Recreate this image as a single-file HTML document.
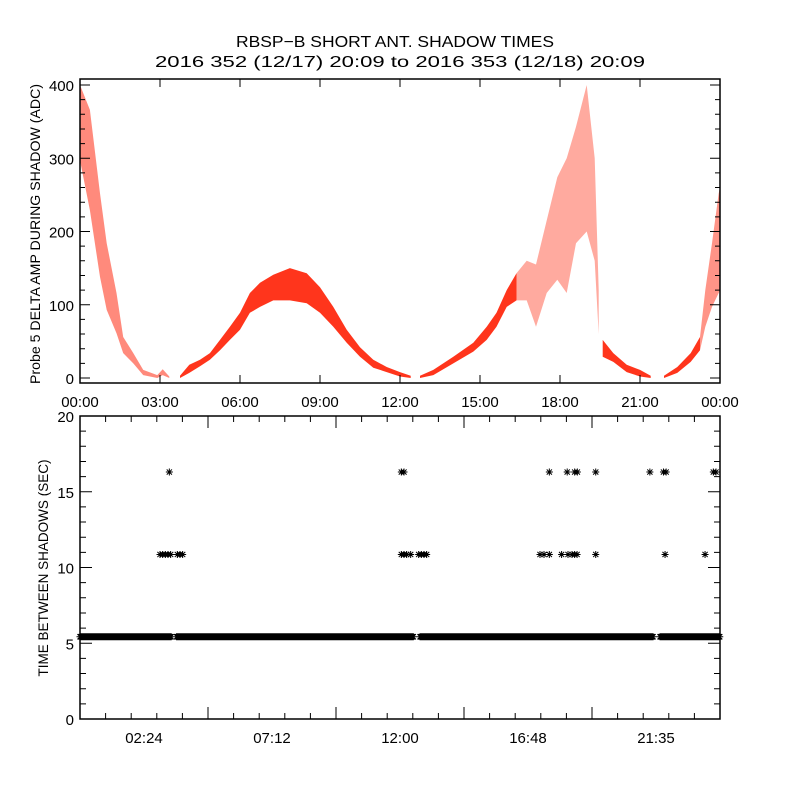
<!DOCTYPE html>
<html><head><meta charset="utf-8"><style>
html,body{margin:0;padding:0;background:#fff;}
svg{display:block;font-family:"Liberation Sans",sans-serif;}
</style></head><body>
<svg id="c" width="800" height="800" viewBox="0 0 800 800">
<rect width="800" height="800" fill="#fff"/>
<text x="395" y="47" text-anchor="middle" font-size="16" textLength="318" lengthAdjust="spacingAndGlyphs">RBSP−B SHORT ANT. SHADOW TIMES</text>
<text x="400" y="67" text-anchor="middle" font-size="16" textLength="490" lengthAdjust="spacingAndGlyphs">2016 352 (12/17) 20:09 to 2016 353 (12/18) 20:09</text>
<g id="topPanel"></g>
<g id="botPanel"></g>
</svg>
<script>
// ---- top panel data: segments of [hour, low, high]
const segA_h  = [0,0.37,0.75,1.0,1.37,1.62,2.0,2.37,2.9,3.1,3.35];
const segA_lo = [297,229,138,93,61,34,20,4,0,4,0];
const segA_hi = [400,366,252,184,116,56,34,11,4,12,2];
const segB_h  = [3.75,4.1,4.5,4.87,5.25,5.62,6.0,6.37,6.75,7.25,7.87,8.5,9.0,9.5,10.0,10.5,11.0,11.5,12.0,12.4];
const segB_lo = [0,7,16,25,38,52,66,89,97,106,106,102,89,70,48,29,14,8,2,0];
const segB_hi = [3,18,25,34,52,70,89,116,130,141,150,143,124,97,66,42,25,15,8,3];
const segC_h  = [12.75,13.25,14.0,14.75,15.25,15.62,16.0,16.37];
const segC_lo = [0,4,20,36,52,70,97,106];
const segC_hi = [3,11,29,48,70,89,120,143];
const segD_h  = [16.37,16.75,17.1,17.5,17.9,18.25,18.6,19.0,19.3,19.45];
const segD_lo = [106,106,70,116,134,116,184,200,160,60];
const segD_hi = [143,160,155,215,274,300,343,400,300,120];
const segE_h  = [19.6,20.0,20.5,21.0,21.4];
const segE_lo = [29,22,8,2,0];
const segE_hi = [52,34,18,11,3];
const segF_h  = [21.9,22.4,22.9,23.25];
const segF_lo = [0,7,22,38];
const segF_hi = [3,15,34,56];
const segG_h  = [23.25,23.45,23.7,23.95,24.0];
const segG_lo = [38,70,97,116,120];
const segG_hi = [56,120,184,252,260];
const topTicks = [0,100,200,300,400];
const timeLabelsTop = ["00:00","03:00","06:00","09:00","12:00","15:00","18:00","21:00","00:00"];

// ---- bottom panel data
const bandStarts = [0.0,3.62,12.75,21.75];
const bandEnds   = [3.44,12.5,21.5,24.0];
const bandValue  = 5.43;
const mid_h = [3.0,3.1,3.2,3.3,3.4,3.65,3.75,3.85,12.05,12.15,12.25,12.4,12.7,12.8,12.9,13.0,17.25,17.4,17.6,18.06,18.3,18.45,18.55,18.64,19.34,21.94,23.44];
const mid_v = 10.86;
const hi_h = [3.35,12.05,12.15,17.6,18.27,18.55,18.65,19.34,21.37,21.88,21.98,23.75,23.85];
const hi_v = 16.3;
const botTicks = [0,5,10,15,20];
const botTimeLabels = ["02:24","07:12","12:00","16:48","21:35"];
const botTimeHours = [2.4,7.2,12.0,16.8,21.6];

const NS="http://www.w3.org/2000/svg";
function mk(tag,attrs,parent){const e=document.createElementNS(NS,tag);for(const k in attrs)e.setAttribute(k,attrs[k]);parent.appendChild(e);return e;}
const X0=80,X1=720;
const xS=h=>X0+(h/24)*(X1-X0);
const T_TOP=79,T_BOT=383;
const yT=v=>378-v*0.7325;
const topG=document.getElementById('topPanel');
function band(hs,lo,hi,op,name){
  let d="M"+hs.map((h,i)=>xS(h).toFixed(1)+","+yT(hi[i]).toFixed(1)).join("L");
  for(let i=hs.length-1;i>=0;i--) d+="L"+xS(hs[i]).toFixed(1)+","+yT(lo[i]).toFixed(1);
  const p=mk('path',{d:d+"Z",fill:"#ff2a10","fill-opacity":op},topG);
  
  
}
band(segA_h,segA_lo,segA_hi,0.55,'series-segment-a');
band(segB_h,segB_lo,segB_hi,0.95,'series-segment-b');
band(segC_h,segC_lo,segC_hi,0.95,'series-segment-c');
band(segD_h,segD_lo,segD_hi,0.4,'series-segment-d');
band(segE_h,segE_lo,segE_hi,0.95,'series-segment-e');
band(segF_h,segF_lo,segF_hi,0.95,'series-segment-f');
band(segG_h,segG_lo,segG_hi,0.5,'series-segment-g');
const tf=mk('rect',{x:X0,y:T_TOP,width:X1-X0,height:T_BOT-T_TOP,fill:"none",stroke:"#000","stroke-width":1.5},topG);


let tk="";
for(let v=0;v<=400;v+=20){const y=yT(v),L=(v%100===0)?10:5;tk+=`M${X0},${y}h${L}M${X1},${y}h${-L}`;}
for(let h=0;h<=24;h+=3){const x=xS(h);tk+=`M${x},${T_BOT}v-8M${x},${T_TOP}v8`;}
const tkp=mk('path',{d:tk,stroke:"#000","stroke-width":1,fill:"none"},topG);


topTicks.forEach(v=>{const t=mk('text',{x:74,y:yT(v)+6,"text-anchor":"end","font-size":15},topG);t.textContent=v;

});
timeLabelsTop.forEach((s,i)=>{const t=mk('text',{x:xS(i*3),y:407,"text-anchor":"middle","font-size":15},topG);t.textContent=s;

});
const yl=mk('text',{x:0,y:0,transform:"translate(40,234) rotate(-90)","text-anchor":"middle","font-size":14,textLength:300,lengthAdjust:"spacingAndGlyphs"},topG);
yl.textContent="Probe 5 DELTA AMP DURING SHADOW (ADC)";



// bottom
const B_TOP=416,B_BOT=719;
const yB=v=>B_BOT-v*(B_BOT-B_TOP)/20;
const botG=document.getElementById('botPanel');
function stars(hs,vals,name){
  let d="";
  hs.forEach((h,i)=>{const x=xS(h),y=yB(vals[i]);d+=`M${x-3.5},${y}h7M${x},${y-3.5}v7M${x-2.6},${y-2.6}l5.2,5.2M${x-2.6},${y+2.6}l5.2,-5.2`;});
  const p=mk('path',{d:d,stroke:"#000","stroke-width":1,fill:"none"},botG);
  
  
}
const band_h=[],band_v=[];
bandStarts.forEach((s,i)=>{for(let h=s;h<=bandEnds[i];h+=0.02){band_h.push(h);band_v.push(bandValue);}});
stars(band_h,band_v,'series-5sec-band');
stars(mid_h,mid_h.map(()=>mid_v),'series-11sec');
stars(hi_h,hi_h.map(()=>hi_v),'series-16sec');
const bf=mk('rect',{x:X0,y:B_TOP,width:X1-X0,height:B_BOT-B_TOP,fill:"none",stroke:"#000","stroke-width":1.5},botG);


let bk="";
for(let v=0;v<=20;v+=1){const y=yB(v),L=(v%5===0)?12:6;bk+=`M${X0},${y}h${L}M${X1},${y}h${-L}`;}
for(let k=0;k<=25;k++){const h=k*0.96;if(h>24)break;const x=xS(h),L=(k%5===0)?12:6;bk+=`M${x},${B_BOT}v${-L}M${x},${B_TOP}v${L}`;}
const bkp=mk('path',{d:bk,stroke:"#000","stroke-width":1,fill:"none"},botG);


botTicks.forEach(v=>{const t=mk('text',{x:74,y:yB(v)+6,"text-anchor":"end","font-size":15},botG);t.textContent=v;

});
botTimeLabels.forEach((s,i)=>{const t=mk('text',{x:xS(botTimeHours[i]),y:743,"text-anchor":"middle","font-size":15},botG);t.textContent=s;

});
const yl2=mk('text',{x:0,y:0,transform:"translate(48,568) rotate(-90)","text-anchor":"middle","font-size":14,textLength:217,lengthAdjust:"spacingAndGlyphs"},botG);
yl2.textContent="TIME BETWEEN SHADOWS (SEC)";


</script>
</body></html>
